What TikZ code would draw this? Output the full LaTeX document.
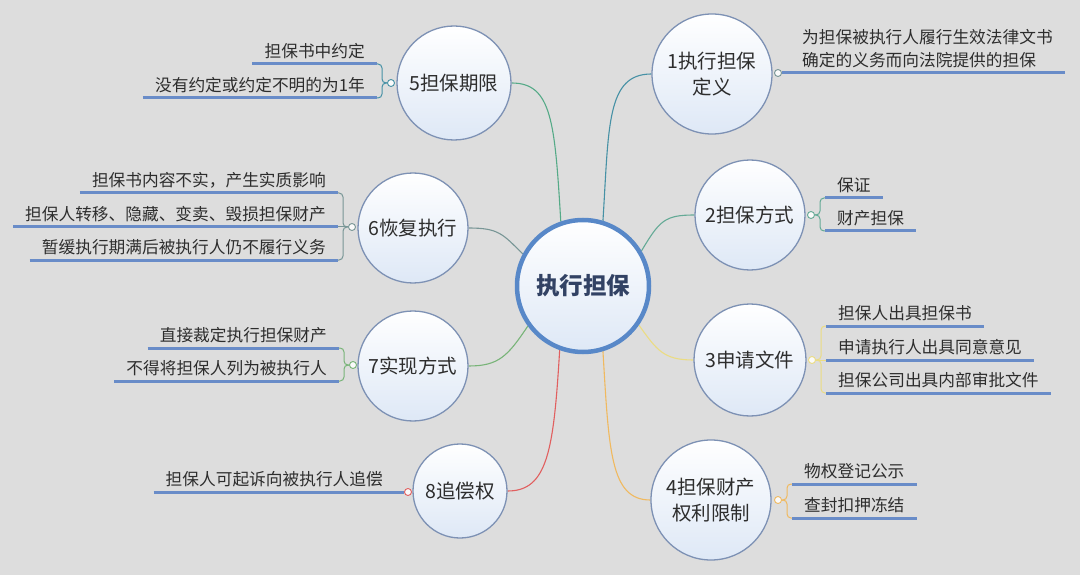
\documentclass[tikz,border=0pt]{standalone}
\usepackage{fontspec}
\setmainfont{Noto Sans CJK SC}
\definecolor{bg}{RGB}{221,221,221}
\definecolor{subborder}{RGB}{125,145,180}
\definecolor{subfill}{RGB}{222,232,246}
\definecolor{cborder}{RGB}{88,136,200}
\definecolor{ctext}{RGB}{50,66,100}
\definecolor{txt}{RGB}{45,45,45}
\definecolor{ucol}{RGB}{105,140,200}
\definecolor{cA}{RGB}{70,145,165}
\definecolor{cB}{RGB}{100,170,150}
\definecolor{cC}{RGB}{235,220,130}
\definecolor{cD}{RGB}{240,185,95}
\definecolor{cE}{RGB}{85,170,135}
\definecolor{cF}{RGB}{120,150,150}
\definecolor{cG}{RGB}{120,180,120}
\definecolor{cH}{RGB}{225,95,95}
\newcommand\mmLeaf{\fontsize{16.7}{23}\selectfont}
\newcommand\mmSub{\fontsize{19.5}{26}\selectfont}
\newcommand\mmCenter{\fontsize{23.5}{28}\selectfont\bfseries}
\pgfdeclarelayer{back}
\pgfdeclarelayer{lines}
\pgfsetlayers{back,lines,main}
\begin{document}
\begin{tikzpicture}[x=1pt,y=-1pt,
  centernode/.style={circle, draw=cborder, line width=4.5pt, top color=white, bottom color=subfill, minimum size=132pt, inner sep=0pt, font=\mmCenter, text=ctext},
  sub/.style={circle, draw=subborder, line width=1.3pt, top color=white, bottom color=subfill, inner sep=0pt, font=\mmSub, text=txt, align=center},
  leafL/.style={anchor=south east, inner xsep=12pt, inner ysep=4.5pt, font=\mmLeaf, text=txt, align=right},
  leafR/.style={anchor=south west, inner xsep=12pt, inner ysep=4.5pt, font=\mmLeaf, text=txt, align=left},
  uline/.style={draw=ucol, line width=3pt},
  brk/.style={line width=1pt, rounded corners=4pt},
  branch/.style={line width=1.1pt},
  jn/.style={circle, line width=0.9pt, fill=white!85!bg, inner sep=0pt, minimum size=7pt}
]
\begin{pgfonlayer}{back}
\fill[bg] (0,0) rectangle (1080,575);
\end{pgfonlayer}
\useasboundingbox (0,0) rectangle (1080,575);

% main nodes
\node[centernode] (c) at (583,286) {执行担保};
\node[sub, minimum size=120pt] (n1) at (712,74) {1执行担保\\定义};
\node[sub, minimum size=110pt] (n2) at (750,215) {2担保方式};
\node[sub, minimum size=112pt] (n3) at (750,360) {3申请文件};
\node[sub, minimum size=120pt] (n4) at (711,500) {4担保财产\\权利限制};
\node[sub, minimum size=114pt] (n5) at (454,83) {5担保期限};
\node[sub, minimum size=110pt] (n6) at (413,228) {6恢复执行};
\node[sub, minimum size=110pt] (n7) at (413,366) {7实现方式};
\node[sub, minimum size=94pt] (n8) at (460,491) {8追偿权};

% junctions
\node[jn, draw=cF] (j1) at (778,73) {};
\node[jn, draw=cB] (j2) at (811,215) {};
\node[jn, draw=cC] (j3) at (812,360) {};
\node[jn, draw=cD] (j4) at (778,500) {};
\node[jn, draw=cA] (j5) at (391,83) {};
\node[jn, draw=cF] (j6) at (352,227) {};
\node[jn, draw=cG] (j7) at (353,365) {};
\node[jn, draw=cH] (j8) at (408,492) {};

\coordinate (b2) at (820,215);
\coordinate (b3) at (821,360);
\coordinate (b4) at (787,500);
\coordinate (b5) at (382,83);
\coordinate (b6) at (343,227);
\coordinate (b7) at (344,365);

% leaves
\node[leafR] (l1) at (790,73) {为担保被执行人履行生效法律文书\\确定的义务而向法院提供的担保};
\node[leafR] (l21) at (825,198) {保证};
\node[leafR] (l22) at (825,231) {财产担保};
\node[leafR] (l31) at (826,326) {担保人出具担保书};
\node[leafR] (l32) at (826,360) {申请执行人出具同意意见};
\node[leafR] (l33) at (826,393) {担保公司出具内部审批文件};
\node[leafR] (l41) at (792,484) {物权登记公示};
\node[leafR] (l42) at (792,518) {查封扣押冻结};
\node[leafL] (l51) at (377,64) {担保书中约定};
\node[leafL] (l52) at (377,98) {没有约定或约定不明的为1年};
\node[leafL] (l61) at (338,193) {担保书内容不实，产生实质影响};
\node[leafL] (l62) at (338,227) {担保人转移、隐藏、变卖、毁损担保财产};
\node[leafL] (l63) at (338,260) {暂缓执行期满后被执行人仍不履行义务};
\node[leafL] (l71) at (339,348) {直接裁定执行担保财产};
\node[leafL] (l72) at (339,381) {不得将担保人列为被执行人};
\node[leafL] (l8) at (395,492) {担保人可起诉向被执行人追偿};

\begin{pgfonlayer}{lines}
% branches
\draw[branch, cA] (c.73) .. controls +(6,-95) and +(-45,0) .. (n1.west);
\draw[branch, cB] (c.31) .. controls +(18,-30) and +(-30,0) .. (n2.west);
\draw[branch, cC] (c.325) .. controls +(18,25) and +(-30,0) .. (n3.west);
\draw[branch, cD] (c.287) .. controls +(6,100) and +(-40,0) .. (n4.west);
\draw[branch, cE] (c.109) .. controls +(-6,-100) and +(40,0) .. (n5.east);
\draw[branch, cF] (c.152) .. controls +(-20,-20) and +(30,0) .. (n6.east);
\draw[branch, cG] (c.216) .. controls +(-20,30) and +(30,0) .. (n7.east);
\draw[branch, cH] (c.250) .. controls +(-6,100) and +(40,0) .. (n8.east);
% brackets
\draw[brk, cB] (j2.east) -- (b2) |- (l21.south west);
\draw[brk, cB] (j2.east) -- (b2) |- (l22.south west);
\draw[brk, cC] (j3.east) -- (b3) |- (l31.south west);
\draw[brk, cC] (j3.east) -- (l32.south west);
\draw[brk, cC] (j3.east) -- (b3) |- (l33.south west);
\draw[brk, cD] (j4.east) -- (b4) |- (l41.south west);
\draw[brk, cD] (j4.east) -- (b4) |- (l42.south west);
\draw[brk, cA] (j5.west) -- (b5) |- (l51.south east);
\draw[brk, cA] (j5.west) -- (b5) |- (l52.south east);
\draw[brk, cF] (j6.west) -- (b6) |- (l61.south east);
\draw[brk, cF] (j6.west) -- (l62.south east);
\draw[brk, cF] (j6.west) -- (b6) |- (l63.south east);
\draw[brk, cG] (j7.west) -- (b7) |- (l71.south east);
\draw[brk, cG] (j7.west) -- (b7) |- (l72.south east);
% underlines
\draw[uline] (j1.east) -- (l1.south east);
\draw[uline] (l8.south west) -- (j8.west);
\foreach \l in {l21,l22,l31,l32,l33,l41,l42,l51,l52,l61,l62,l63,l71,l72}
  \draw[uline] (\l.south west) -- (\l.south east);
\end{pgfonlayer}
\end{tikzpicture}
\end{document}
